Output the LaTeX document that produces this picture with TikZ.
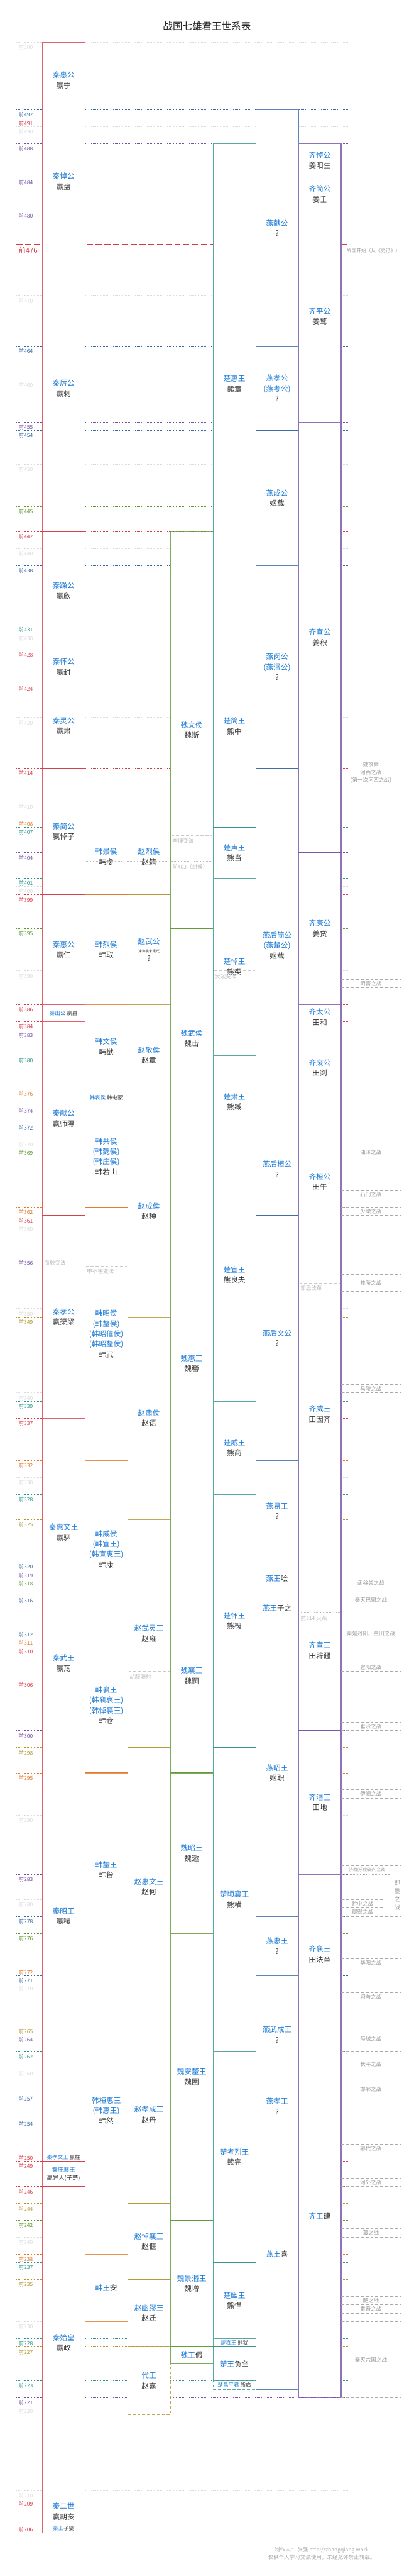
\documentclass[tikz,border=0pt]{standalone}
\usepackage{fontspec}
\setmainfont{Noto Sans CJK SC}
\usepackage{xcolor}
\usepackage{tikz}
\usetikzlibrary{positioning}
\definecolor{qincolor}{HTML}{D63A48}
\definecolor{hancolor}{HTML}{E0782A}
\definecolor{zhaocolor}{HTML}{B3942F}
\definecolor{weicolor}{HTML}{5E9632}
\definecolor{chucolor}{HTML}{2E938C}
\definecolor{yancolor}{HTML}{3568A5}
\definecolor{qicolor}{HTML}{7350A6}
\definecolor{decade}{HTML}{DADADA}
\definecolor{titleblue}{HTML}{1E7BD6}
\definecolor{namegrey}{HTML}{333333}
\definecolor{notegrey}{HTML}{999999}
\definecolor{noteline}{HTML}{AAAAAA}
\definecolor{reformgrey}{HTML}{BBBBBB}
\tikzstyle{kingbox} = [rectangle, fill=white, line width=1.4pt, draw opacity=0.8,
    minimum width=87.5pt, inner sep=0pt, align=center, text=namegrey,
    font=\fontsize{15}{21}\selectfont]
\tikzstyle{smallking} = [kingbox, font=\fontsize{11}{14}\selectfont]
\tikzstyle{midking} = [kingbox, font=\fontsize{12}{17}\selectfont]
\tikzstyle{yearline} = [line width=1.3pt, dash pattern=on 1.3pt off 1.7pt]
\tikzstyle{yearlabel} = [anchor=west, inner sep=0pt, font=\fontsize{11}{13}\selectfont]
\tikzstyle{battleline} = [noteline, line width=1.4pt, dash pattern=on 6pt off 4pt]
\tikzstyle{battle} = [text=notegrey, align=center, inner sep=0pt, font=\fontsize{11}{16}\selectfont]
\tikzstyle{reformline} = [reformgrey!80, line width=1.4pt, dash pattern=on 6pt off 4pt]
\tikzstyle{reform} = [anchor=west, text=reformgrey, inner sep=0pt, font=\fontsize{11}{13}\selectfont]
\newcommand{\kingt}[1]{\textcolor{titleblue}{#1}}
% #1 style, #2 name, #3 column, #4 from, #5 to, #6 colour, #7 text
\newcommand{\king}[7][kingbox]{%
  \node[#1, draw=#6, minimum height={(#4-#5)*17.28pt}] (#2) at ({130.25+87.5*#3},{(#4+#5)/2}) {#7};}

\begin{document}
\begin{tikzpicture}[x=1pt, y=17.28pt]
\useasboundingbox (0,199.88) rectangle (847,505);
\node[font=\fontsize{20}{24}\selectfont, text=black!85] (title) at (424,501.9) {战国七雄君王世系表};

% year lines
\foreach \yy/\cc in {500/decade, 492/yancolor, 491/qincolor, 490/decade, 488/qicolor,
    484/qicolor, 480/qicolor, 470/decade, 464/yancolor, 460/decade, 455/qicolor,
    454/yancolor, 450/decade, 445/weicolor, 442/qincolor, 440/decade, 438/yancolor,
    431/chucolor, 430/decade, 428/qincolor, 424/qincolor, 420/decade, 414/qincolor,
    410/decade, 408/hancolor, 407/chucolor, 404/qicolor, 401/chucolor, 400/decade,
    399/qincolor, 395/weicolor, 390/decade, 386/qincolor, 384/qincolor, 383/qicolor,
    380/chucolor, 376/hancolor, 374/qicolor, 372/yancolor, 370/decade, 369/weicolor,
    362/hancolor, 361/qincolor, 360/decade, 356/qicolor, 350/decade, 349/zhaocolor,
    340/decade, 339/chucolor, 337/qincolor, 332/hancolor, 330/decade, 328/chucolor,
    325/zhaocolor, 320/yancolor, 319/qicolor, 318/weicolor, 316/yancolor, 312/yancolor,
    311/hancolor, 310/qincolor, 306/qincolor, 300/qicolor, 298/zhaocolor, 295/hancolor,
    290/decade, 283/qicolor, 280/decade, 278/yancolor, 276/weicolor, 272/hancolor,
    271/yancolor, 270/decade, 265/zhaocolor, 264/qicolor, 262/chucolor, 260/decade,
    257/yancolor, 254/yancolor, 250/qincolor, 249/qincolor, 246/qincolor, 244/zhaocolor,
    242/weicolor, 240/decade, 238/hancolor, 237/chucolor, 235/zhaocolor, 230/decade,
    228/chucolor, 227/zhaocolor, 223/chucolor, 221/qicolor, 220/decade, 210/decade,
    209/qincolor, 206/qincolor}{
  \draw[yearline, draw=\cc] (34,\yy) -- (717,\yy);
  \node[yearlabel, text=\cc] (label\yy) at (38,\yy-0.6) {前\yy};
}
\draw[qincolor, line width=2.4pt, dash pattern=on 12pt off 6pt] (34,476) -- (717,476);
\node[yearlabel, text=qincolor, font=\fontsize{14.5}{16}\selectfont] (label476) at (38,475.3) {前476};
\node[anchor=west, inner sep=0pt, text=notegrey, font=\fontsize{10}{12}\selectfont] (start) at (710,475.3) {战国开始（从《史记》）};

% Qin
\king{qin1}{0}{500}{491}{qincolor}{\kingt{秦惠公}\\嬴宁}
\king{qin2}{0}{491}{476}{qincolor}{\kingt{秦悼公}\\嬴盘}
\king{qin3}{0}{476}{442}{qincolor}{\kingt{秦厉公}\\嬴剌}
\king{qin4}{0}{442}{428}{qincolor}{\kingt{秦躁公}\\嬴欣}
\king{qin5}{0}{428}{424}{qincolor}{\kingt{秦怀公}\\嬴封}
\king{qin6}{0}{424}{414}{qincolor}{\kingt{秦灵公}\\嬴肃}
\king{qin7}{0}{414}{399}{qincolor}{\kingt{秦简公}\\嬴悼子}
\king{qin8}{0}{399}{386}{qincolor}{\kingt{秦惠公}\\嬴仁}
\king[smallking]{qin9}{0}{386}{384}{qincolor}{\kingt{秦出公} 嬴昌}
\king{qin10}{0}{384}{361}{qincolor}{\kingt{秦献公}\\嬴师隰}
\king{qin11}{0}{361}{337}{qincolor}{\kingt{秦孝公}\\嬴渠梁}
\king{qin12}{0}{337}{310}{qincolor}{\kingt{秦惠文王}\\嬴驷}
\king{qin13}{0}{310}{306}{qincolor}{\kingt{秦武王}\\嬴荡}
\king{qin14}{0}{306}{250}{qincolor}{\kingt{秦昭王}\\嬴稷}
\king[smallking]{qin15}{0}{250}{249}{qincolor}{\kingt{秦孝文王} 嬴柱}
\king[midking]{qin16}{0}{249}{246}{qincolor}{\kingt{秦庄襄王}\\嬴异人(子楚)}
\king{qin17}{0}{246}{209}{qincolor}{\kingt{秦始皇}\\嬴政}
\king{qin18}{0}{209}{206}{qincolor}{\kingt{秦二世}\\嬴胡亥}
\king[smallking]{qin19}{0}{206}{205}{qincolor}{\kingt{秦王}子婴}

% Han
\king{han1}{1}{408}{399}{hancolor}{\kingt{韩景侯}\\韩虔}
\king{han2}{1}{399}{386}{hancolor}{\kingt{韩烈侯}\\韩取}
\king{han3}{1}{386}{376}{hancolor}{\kingt{韩文侯}\\韩猷}
\king[smallking]{han4}{1}{376}{374}{hancolor}{\kingt{韩哀侯} 韩屯蒙}
\king{han5}{1}{374}{362}{hancolor}{\kingt{韩共侯}\\\kingt{(韩懿侯)}\\\kingt{(韩庄侯)}\\韩若山}
\king{han6}{1}{362}{332}{hancolor}{\kingt{韩昭侯}\\\kingt{(韩釐侯)}\\\kingt{(韩昭僖侯)}\\\kingt{(韩昭釐侯)}\\韩武}
\king{han7}{1}{332}{311}{hancolor}{\kingt{韩威侯}\\\kingt{(韩宣王)}\\\kingt{(韩宣惠王)}\\韩康}
\king{han8}{1}{311}{295}{hancolor}{\kingt{韩襄王}\\\kingt{(韩襄哀王)}\\\kingt{(韩悼襄王)}\\韩仓}
\king{han9}{1}{295}{272}{hancolor}{\kingt{韩釐王}\\韩咎}
\king{han10}{1}{272}{238}{hancolor}{\kingt{韩桓惠王}\\\kingt{(韩惠王)}\\韩然}
\king{han11}{1}{238}{230}{hancolor}{\kingt{韩王}安}

% Zhao
\king{zhao1}{2}{408}{399}{zhaocolor}{\kingt{赵烈侯}\\赵籍}
\king{zhao2}{2}{399}{386}{zhaocolor}{\kingt{赵武公}\\[-4pt]{\fontsize{7}{9}\selectfont (未称侯未更元)}\\[-4pt]?}
\king{zhao3}{2}{386}{374}{zhaocolor}{\kingt{赵敬侯}\\赵章}
\king{zhao4}{2}{374}{349}{zhaocolor}{\kingt{赵成侯}\\赵种}
\king{zhao5}{2}{349}{325}{zhaocolor}{\kingt{赵肃侯}\\赵语}
\king{zhao6}{2}{325}{298}{zhaocolor}{\kingt{赵武灵王}\\赵雍}
\king{zhao7}{2}{298}{265}{zhaocolor}{\kingt{赵惠文王}\\赵何}
\king{zhao8}{2}{265}{244}{zhaocolor}{\kingt{赵孝成王}\\赵丹}
\king{zhao9}{2}{244}{235}{zhaocolor}{\kingt{赵悼襄王}\\赵偃}
\king{zhao10}{2}{235}{227}{zhaocolor}{\kingt{赵幽缪王}\\赵迁}
\king[kingbox, dash pattern=on 6pt off 4pt]{dai}{2}{227}{219}{zhaocolor}{\kingt{代王}\\赵嘉}

% Wei
\king{wei1}{3}{442}{395}{weicolor}{\kingt{魏文侯}\\魏斯}
\king{wei2}{3}{395}{369}{weicolor}{\kingt{魏武侯}\\魏击}
\king{wei3}{3}{369}{318}{weicolor}{\kingt{魏惠王}\\魏罃}
\king{wei4}{3}{318}{295}{weicolor}{\kingt{魏襄王}\\魏嗣}
\king{wei5}{3}{295}{276}{weicolor}{\kingt{魏昭王}\\魏遬}
\king{wei6}{3}{276}{242}{weicolor}{\kingt{魏安釐王}\\魏圉}
\king{wei7}{3}{242}{227}{weicolor}{\kingt{魏景湣王}\\魏增}
\king{wei8}{3}{227}{225}{weicolor}{\kingt{魏王}假}

% Chu
\king{chu1}{4}{488}{431}{chucolor}{\kingt{楚惠王}\\熊章}
\king{chu2}{4}{431}{407}{chucolor}{\kingt{楚简王}\\熊中}
\king{chu3}{4}{407}{401}{chucolor}{\kingt{楚声王}\\熊当}
\king{chu4}{4}{401}{380}{chucolor}{\kingt{楚悼王}\\熊类}
\king{chu5}{4}{380}{369}{chucolor}{\kingt{楚肃王}\\熊臧}
\king{chu6}{4}{369}{339}{chucolor}{\kingt{楚宣王}\\熊良夫}
\king{chu7}{4}{339}{328}{chucolor}{\kingt{楚威王}\\熊商}
\king{chu8}{4}{328}{298}{chucolor}{\kingt{楚怀王}\\熊槐}
\king{chu9}{4}{298}{262}{chucolor}{\kingt{楚顷襄王}\\熊横}
\king{chu10}{4}{262}{237}{chucolor}{\kingt{楚考烈王}\\熊完}
\king{chu11}{4}{237}{228}{chucolor}{\kingt{楚幽王}\\熊悍}
\king[smallking]{chu12}{4}{228}{227}{chucolor}{\kingt{楚哀王} 熊犹}
\king{chu13}{4}{227}{223}{chucolor}{\kingt{楚王}负刍}
\king[smallking, dash pattern=on 6pt off 4pt]{chu14}{4}{223}{222}{chucolor}{\kingt{楚昌平君} 熊启}

% Yan
\king{yan1}{5}{492}{464}{yancolor}{\kingt{燕献公}\\?}
\king{yan2}{5}{464}{454}{yancolor}{\kingt{燕孝公}\\\kingt{(燕考公)}\\?}
\king{yan3}{5}{454}{438}{yancolor}{\kingt{燕成公}\\姬载}
\king{yan4}{5}{438}{414}{yancolor}{\kingt{燕闵公}\\\kingt{(燕湣公)}\\?}
\king{yan5}{5}{414}{372}{yancolor}{\kingt{燕后简公}\\\kingt{(燕釐公)}\\姬载}
\king{yan6}{5}{372}{361}{yancolor}{\kingt{燕后桓公}\\?}
\king{yan7}{5}{361}{332}{yancolor}{\kingt{燕后文公}\\?}
\king{yan8}{5}{332}{320}{yancolor}{\kingt{燕易王}\\?}
\king{yan9}{5}{320}{316}{yancolor}{\kingt{燕王}哙}
\king{yan10}{5}{316}{313}{yancolor}{\kingt{燕王}子之}
\king{yan11}{5}{313}{312}{yancolor}{}
\king{yan12}{5}{312}{278}{yancolor}{\kingt{燕昭王}\\姬职}
\king{yan13}{5}{278}{271}{yancolor}{\kingt{燕惠王}\\?}
\king{yan14}{5}{271}{257}{yancolor}{\kingt{燕武成王}\\?}
\king{yan15}{5}{257}{254}{yancolor}{\kingt{燕孝王}\\?}
\king{yan16}{5}{254}{222}{yancolor}{\kingt{燕王}喜}

% Qi
\king{qi1}{6}{488}{484}{qicolor}{\kingt{齐悼公}\\姜阳生}
\king{qi2}{6}{484}{480}{qicolor}{\kingt{齐简公}\\姜壬}
\king{qi3}{6}{480}{455}{qicolor}{\kingt{齐平公}\\姜骜}
\king{qi4}{6}{455}{404}{qicolor}{\kingt{齐宣公}\\姜积}
\king{qi5}{6}{404}{386}{qicolor}{\kingt{齐康公}\\姜贷}
\king{qi6}{6}{386}{383}{qicolor}{\kingt{齐太公}\\田和}
\king{qi7}{6}{383}{374}{qicolor}{\kingt{齐废公}\\田剡}
\king{qi8}{6}{374}{356}{qicolor}{\kingt{齐桓公}\\田午}
\king{qi9}{6}{356}{319}{qicolor}{\kingt{齐威王}\\田因齐}
\king{qi10}{6}{319}{300}{qicolor}{\kingt{齐宣王}\\田辟疆}
\king{qi11}{6}{300}{283}{qicolor}{\kingt{齐湣王}\\田地}
\king{qi12}{6}{283}{264}{qicolor}{\kingt{齐襄王}\\田法章}
\king{qi13}{6}{264}{221}{qicolor}{\kingt{齐王}建}

% reforms inside the columns
\foreach \xx/\yy/\txt in {349/406/李悝变法, 436.5/390/吴起变法, 86.5/356/商鞅变法,
    174/355/申不害变法, 611.5/353/邹忌改革, 261.5/307/胡服骑射}{
  \draw[reformline] (\xx+2,\yy) -- (\xx+86,\yy);
  \node[reform] (reform\yy) at (\xx+4,\yy-0.6) {\txt};
}
\draw[yearline, draw=reformgrey] (176,403) -- (435,403);
\node[reform] (feng) at (353,402.3) {前403（封侯）};
\draw[yearline, draw=reformgrey] (614,314) -- (697,314);
\node[reform] (mieyan) at (616,313.3) {前314 灭燕};

% battles
\foreach \a/\b/\txt in {419/408/{魏攻秦\\河西之战\\(第一次河西之战)},
    389/388/阴晋之战, 369/368/浊泽之战, 364/363/石门之战, 362/361/少梁之战,
    354/352/桂陵之战, 341/340/马陵之战, 318/317/函谷关之战, 316/315/秦灭巴蜀之战,
    312/311/秦楚丹阳、兰田之战, 308/307/宜阳之战, 301/300/垂沙之战, 293/292/伊阙之战,
    273/272/华阳之战, 269/268/阏与之战, 264/263/陉城之战, 262/259/长平之战,
    259/256/邯郸之战, 251/250/鄗代之战, 247/246/河外之战, 241/240/蕞之战,
    233/232/肥之战, 232/231/番吾之战, 230/221/秦灭六国之战}{
  \draw[battleline] (699,\a) -- (822,\a);
  \draw[battleline] (699,\b) -- (822,\b);
  \node[battle] (battle\a) at (760,{(\a+\b)/2}) {\txt};
}
\draw[battleline] (699,284) -- (822,284);
\draw[yearline, draw=noteline] (699,283) -- (805,283);
\node[battle, font=\fontsize{8.5}{10}\selectfont] (jixi) at (752,283.5) {济西(乐毅破齐)之战};
\draw[battleline] (699,280) -- (787,280);
\draw[battleline] (699,279) -- (787,279);
\draw[battleline] (699,278) -- (822,278);
\node[battle] (qianzhong) at (743,279.5) {黔中之战};
\node[battle] (yanying) at (743,278.5) {鄢郢之战};
\node[battle, font=\fontsize{12}{17}\selectfont] (jimo) at (814,280.5) {即\\墨\\之\\战};

\node[text=noteline, align=center, font=\fontsize{11}{16}\selectfont] (credit) at (659,202.55)
    {制作人： 张强 http://zhangqiang.work\\仅供个人学习交流使用，未经允许禁止转载。};
\end{tikzpicture}
\end{document}
